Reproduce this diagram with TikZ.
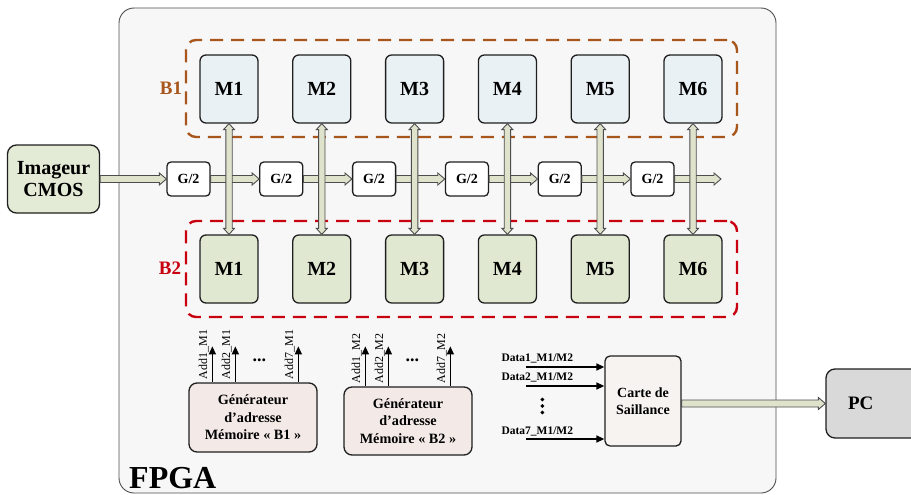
\documentclass[tikz,border=0pt]{standalone}
\usepackage{fontspec}
\setmainfont{Liberation Serif}
\usetikzlibrary{calc,arrows.meta}
\definecolor{fpgafill}{HTML}{F7F7F7}
\definecolor{mtopfill}{HTML}{EAF1F4}
\definecolor{mbotfill}{HTML}{E1E8D1}
\definecolor{imgfill}{HTML}{E3EAD6}
\definecolor{genfill}{HTML}{F3EAE7}
\definecolor{cartefill}{HTML}{F6F3F1}
\definecolor{pcfill}{HTML}{D9D9D9}
\definecolor{busfill}{HTML}{DFE3CC}
\definecolor{busline}{HTML}{4D4D4D}
\definecolor{bonecol}{HTML}{A8561C}
\definecolor{btwocol}{HTML}{C9000F}
\definecolor{boxline}{HTML}{1F1F1F}
\newcommand{\hbus}[2]{\filldraw[bus] let \p1=(#1), \p2=(#2) in
  (\x1,\y1+3.5pt) -- (\x2-7pt,\y1+3.5pt) -- (\x2-7pt,\y1+6pt) -- (\x2,\y1) --
  (\x2-7pt,\y1-6pt) -- (\x2-7pt,\y1-3.5pt) -- (\x1,\y1-3.5pt) -- cycle;}
\newcommand{\vbus}[2]{\filldraw[bus] let \p1=(#1), \p2=(#2) in
  (\x1,\y1) -- (\x1+5.5pt,\y1-6pt) -- (\x1+3.2pt,\y1-6pt) -- (\x1+3.2pt,\y2+6pt) --
  (\x1+5.5pt,\y2+6pt) -- (\x1,\y2) -- (\x1-5.5pt,\y2+6pt) -- (\x1-3.2pt,\y2+6pt) --
  (\x1-3.2pt,\y1-6pt) -- (\x1-5.5pt,\y1-6pt) -- cycle;}
\begin{document}
\begin{tikzpicture}[x=1pt,y=-1pt,
  bus/.style={fill=busfill,draw=busline,line width=0.9pt,line join=miter},
  blk/.style={draw=boxline,line width=1.3pt,rounded corners=6pt,inner sep=0pt,align=center},
  mtop/.style={blk,fill=mtopfill,minimum width=58pt,minimum height=68pt,font=\bfseries\fontsize{20}{22}\selectfont},
  mbot/.style={blk,fill=mbotfill,minimum width=58pt,minimum height=68pt,font=\bfseries\fontsize{20}{22}\selectfont},
  gbox/.style={blk,fill=white,rounded corners=4pt,minimum width=43pt,minimum height=34pt,font=\bfseries\fontsize{14}{14}\selectfont},
  dashbox/.style={line width=2.4pt,rounded corners=10pt,dash pattern=on 13pt off 8pt,inner sep=0pt},
  addarr/.style={line width=1.5pt,-{Triangle[length=8pt,width=7pt]}},
  dataarr/.style={line width=1.4pt,-{Triangle[length=8pt,width=7pt]}},
  addlbl/.style={rotate=90,anchor=west,inner sep=0pt,font=\fontsize{12}{12}\selectfont},
  datalbl/.style={anchor=west,inner sep=0pt,font=\bfseries\fontsize{11.5}{12}\selectfont},
  gentext/.style={font=\bfseries\fontsize{14.2}{17.5}\selectfont},
  dotsty/.style={font=\bfseries\fontsize{18}{18}\selectfont,inner sep=0pt}
]
\useasboundingbox (0,0) rectangle (911,495);
\clip (0,0) rectangle (911,495);
% FPGA frame
\node[draw=busline,line width=0.9pt,fill=fpgafill,rounded corners=15pt,minimum width=657pt,minimum height=485pt,inner sep=0pt] (fpga) at (447.5,250.5) {};
\node[anchor=base west,inner sep=0pt,font=\bfseries\fontsize{32}{34}\selectfont] (fpgalbl) at (129,488) {FPGA};
% external blocks
\node[blk,fill=imgfill,rounded corners=9pt,minimum width=92pt,minimum height=68pt,font=\bfseries\fontsize{20}{22}\selectfont] (img) at (53.5,179) {Imageur\\CMOS};
\node[blk,fill=pcfill,rounded corners=9pt,minimum width=100pt,minimum height=69pt,font=\bfseries\fontsize{19}{20}\selectfont,text width=70pt,align=left] (pc) at (876,403.5) {\hspace*{7pt}PC};
% dashed groups
\node[dashbox,draw=bonecol,minimum width=551pt,minimum height=97pt] (bonebox) at (461.5,88.5) {};
\node[dashbox,draw=btwocol,minimum width=551pt,minimum height=96pt] (btwobox) at (461.5,269) {};
\node[text=bonecol,font=\bfseries\fontsize{19}{20}\selectfont,inner sep=0pt] (bonelbl) at (171,88) {B1};
\node[text=btwocol,font=\bfseries\fontsize{19}{20}\selectfont,inner sep=0pt] (btwolbl) at (170,268) {B2};
% memories and G/2
\foreach \i in {1,...,6}{
  \pgfmathsetmacro\xx{229+92.8*(\i-1)}
  \node[mtop] (A\i) at (\xx,89) {M\i};
  \node[mbot] (B\i) at (\xx,269) {M\i};
  \node[gbox] (G\i) at (\xx-40.5,179) {G/2};
}
% horizontal bus
\coordinate (hend) at (721,179);
\hbus{img.east}{G1.west}
\foreach \i in {1,...,5}{
  \pgfmathtruncatemacro\j{\i+1}
  \hbus{G\i.east}{G\j.west}
}
\hbus{G6.east}{hend}
% vertical buses
\foreach \i in {1,...,6}{
  \vbus{A\i.south}{B\i.north}
}
% address generators
\node[blk,fill=genfill,rounded corners=8pt,minimum width=128pt,minimum height=69pt,gentext] (genone) at (253,417.5) {Générateur\\d’adresse\\Mémoire « B1 »};
\node[blk,fill=genfill,rounded corners=8pt,minimum width=128pt,minimum height=68pt,gentext] (gentwo) at (408,421) {Générateur\\d’adresse\\Mémoire « B2 »};
\draw[addarr] ($(genone.north west)+(24,0)$) -- ++(0,-36) coordinate (aoneone);
\draw[addarr] ($(genone.north west)+(47,0)$) -- ++(0,-36) coordinate (aonetwo);
\draw[addarr] ($(genone.north west)+(110,0)$) -- ++(0,-36) coordinate (aoneseven);
\node[addlbl] (lone1) at ($(genone.north west)+(15.5,-3)$) {Add1\_M1};
\node[addlbl] (lone2) at ($(genone.north west)+(38.5,-3)$) {Add2\_M1};
\node[addlbl] (lone7) at ($(genone.north west)+(101.5,-3)$) {Add7\_M1};
\node[dotsty] (donedots) at ($(genone.north west)+(71,-22)$) {...};
\draw[addarr] ($(gentwo.north west)+(22,0)$) -- ++(0,-40) coordinate (atwoone);
\draw[addarr] ($(gentwo.north west)+(45,0)$) -- ++(0,-40) coordinate (atwotwo);
\draw[addarr] ($(gentwo.north west)+(107,0)$) -- ++(0,-40) coordinate (atwoseven);
\node[addlbl] (ltwo1) at ($(gentwo.north west)+(13.5,-3)$) {Add1\_M2};
\node[addlbl] (ltwo2) at ($(gentwo.north west)+(36.5,-3)$) {Add2\_M2};
\node[addlbl] (ltwo7) at ($(gentwo.north west)+(98.5,-3)$) {Add7\_M2};
\node[dotsty] (dtwodots) at ($(gentwo.north west)+(69,-26)$) {...};
% saliency card
\node[blk,fill=cartefill,rounded corners=5pt,minimum width=76pt,minimum height=90pt,font=\bfseries\fontsize{14}{16.5}\selectfont] (carte) at (643,401) {Carte de\\Saillance};
\draw[dataarr] ($(carte.west)+(-78,-34)$) coordinate (done) -- ($(carte.west)+(0,-34)$);
\draw[dataarr] ($(carte.west)+(-78,-15)$) coordinate (dtwo) -- ($(carte.west)+(0,-15)$);
\draw[dataarr] ($(carte.west)+(-78,38)$) coordinate (dseven) -- ($(carte.west)+(0,38)$);
\node[datalbl] (ldone) at ($(carte.west)+(-103,-43)$) {Data1\_M1/M2};
\node[datalbl] (ldtwo) at ($(carte.west)+(-103,-24)$) {Data2\_M1/M2};
\node[datalbl] (ldseven) at ($(carte.west)+(-103,30)$) {Data7\_M1/M2};
\foreach \d in {-6.5,0,6.5}{
  \fill ($(carte.west)+(-62,5+\d)$) circle (1.9pt);
}
\hbus{carte.east |- pc.west}{pc.west}
\end{tikzpicture}
\end{document}
